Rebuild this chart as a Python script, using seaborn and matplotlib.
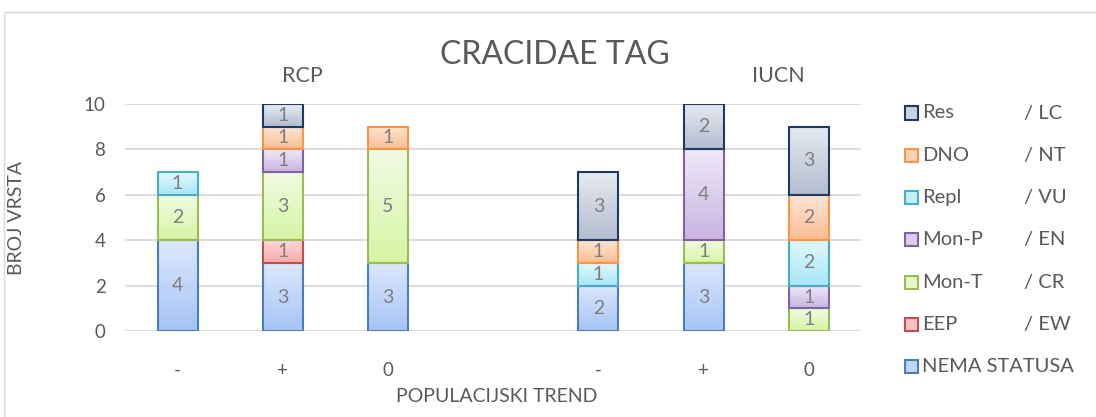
import numpy as np
import matplotlib.pyplot as plt
import matplotlib.colors as mcolors
from matplotlib.patches import Rectangle
import seaborn as sns

# x slots, the "gap" slot keeps the two groups apart
slots = ['RCP -', 'RCP +', 'RCP 0', 'gap', 'IUCN -', 'IUCN +', 'IUCN 0']
tick_labels = ['-', '+', '0', '', '-', '+', '0']
bars = ['RCP -', 'RCP +', 'RCP 0', 'IUCN -', 'IUCN +', 'IUCN 0']

# counts per status, stacked from the bottom up
nema = [4, 3, 3, 2, 3, 0]
eep = [0, 1, 0, 0, 0, 0]
mon_t = [2, 3, 5, 0, 1, 1]
mon_p = [0, 1, 0, 0, 4, 1]
repl = [1, 0, 0, 1, 0, 2]
dno = [0, 1, 1, 1, 0, 2]
res = [0, 1, 0, 3, 2, 3]

series_names = ['NEMA STATUSA', 'EEP', 'Mon-T', 'Mon-P', 'Repl', 'DNO', 'Res']
iucn_names = ['', '/ EW', '/ CR', '/ EN', '/ VU', '/ NT', '/ LC']
layers = [nema, eep, mon_t, mon_p, repl, dno, res]

# (top of gradient, bottom of gradient, edge)
styles = {
    'NEMA STATUSA': ('#dde8fc', '#a6c3f6', '#4a7ebb'),
    'EEP': ('#ffd8d8', '#f6aaaa', '#c0504d'),
    'Mon-T': ('#f2fbe4', '#d5f5a3', '#9bbb59'),
    'Mon-P': ('#efe9f8', '#c9b4e2', '#8064a2'),
    'Repl': ('#e2f8fd', '#a6e7f7', '#4bacc6'),
    'DNO': ('#fde6d5', '#fbbd91', '#f79646'),
    'Res': ('#e6eaf1', '#b3bdcf', '#1f3a60'),
}

TXT = '#595959'

sns.set_style('white')
plt.rcParams['font.family'] = ['Lato', 'DejaVu Sans']

fig = plt.figure(figsize=(10.96, 4.17), dpi=100)
ax = fig.add_axes([0.114, 0.206, 0.672, 0.545])

bottom = np.zeros(len(bars))
for name, vals in zip(series_names, layers):
    top_c, bot_c, edge_c = styles[name]
    n0 = len(ax.patches)
    sns.barplot(x=bars, y=vals, order=slots, bottom=bottom, width=0.38,
                color=bot_c, edgecolor=edge_c, linewidth=1.5, errorbar=None, ax=ax)
    new = list(ax.patches[n0:])
    cmap = mcolors.LinearSegmentedColormap.from_list(name, [bot_c, top_c])
    for p, v in zip(new, vals):
        if v == 0:
            p.remove()
            continue
        x0, y0, w, h = p.get_x(), p.get_y(), p.get_width(), p.get_height()
        im = ax.imshow(np.linspace(0, 1, 64).reshape(-1, 1), extent=[x0, x0 + w, y0, y0 + h],
                       origin='lower', cmap=cmap, aspect='auto', zorder=1.5)
        im.set_clip_path(p)
        p.set_facecolor('none')
        p.set_zorder(2)
        ax.text(x0 + w / 2, y0 + h / 2, str(v), ha='center', va='center',
                fontsize=14, color='#7f7f7f', zorder=3)
    bottom += np.array(vals)

ax.set_xlim(-0.5, len(slots) - 0.5)
ax.set_ylim(0, 10)
ax.set_yticks(range(0, 11, 2))
ax.set_xticks(range(len(slots)))
ax.set_xticklabels(tick_labels)
sns.despine(ax=ax, left=True, bottom=True)
ax.grid(axis='y', color='#d9d9d9', linewidth=1.3)
ax.grid(axis='x', visible=False)
ax.set_axisbelow(True)
ax.tick_params(axis='both', length=0, labelsize=13.5, labelcolor=TXT)
ax.tick_params(axis='y', pad=14)
ax.tick_params(axis='x', pad=22)

ax.set_ylabel('BROJ VRSTA', fontsize=14, color=TXT)
ax.yaxis.set_label_coords(-0.136, 0.5)
ax.set_xlabel('POPULACIJSKI TREND', fontsize=14, color=TXT)
ax.xaxis.set_label_coords(0.505, -0.25)

fig.text(0.506, 0.868, 'CRACIDAE TAG', ha='center', va='center', fontsize=23, color=TXT)
fig.text(0.2755, 0.818, 'RCP', ha='center', va='center', fontsize=15.5, color=TXT)
fig.text(0.71, 0.818, 'IUCN', ha='center', va='center', fontsize=15.5, color=TXT)

# legend, drawn by hand so the "/ XX" column lines up
W, H = 1096, 417
for i, (name, iu) in enumerate(zip(series_names[::-1], iucn_names[::-1])):
    top_c, bot_c, edge_c = styles[name]
    yc = 113 + i * 42.3
    fig.add_artist(Rectangle((905 / W, 1 - (yc + 6.5) / H), 13 / W, 13 / H,
                             transform=fig.transFigure, facecolor=mcolors.to_hex(
                                 (np.array(mcolors.to_rgb(top_c)) + np.array(mcolors.to_rgb(bot_c))) / 2),
                             edgecolor=edge_c, linewidth=1.5))
    fig.text(922 / W, 1 - yc / H, name, ha='left', va='center', fontsize=14.5, color=TXT)
    if iu:
        fig.text(1024 / W, 1 - yc / H, iu, ha='left', va='center', fontsize=14.5, color=TXT)

# chart frame
fig.add_artist(Rectangle((4 / W, -0.1), 1.2, 1.1 - 12 / H, transform=fig.transFigure,
                         fill=False, edgecolor='#d9d9d9', linewidth=1))

fig.savefig('out.png', dpi=100)
